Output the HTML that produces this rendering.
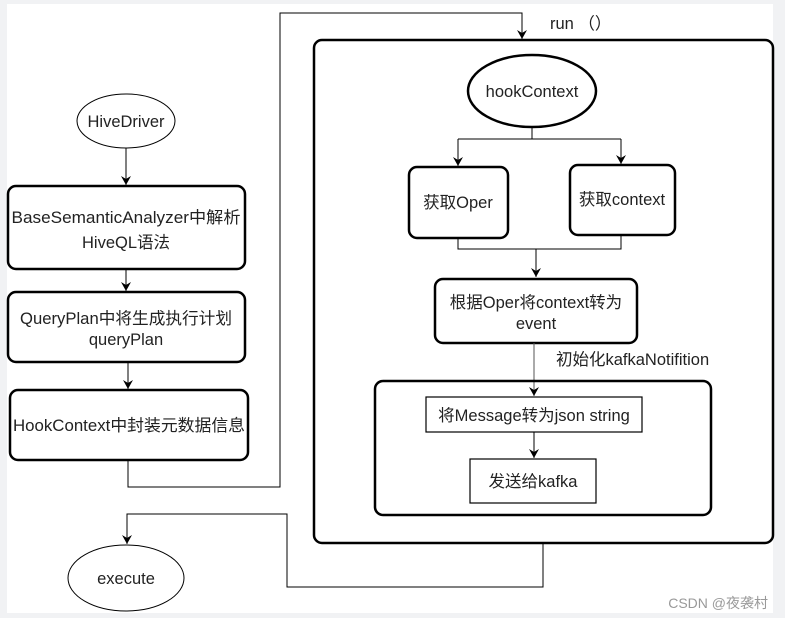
<!DOCTYPE html>
<html><head><meta charset="utf-8"><style>
html,body{margin:0;padding:0;background:#f1f2f4;}
svg{display:block}
text{font-family:"Liberation Sans","Noto Sans CJK SC",sans-serif;font-size:16.5px;fill:#222;}
</style></head><body>
<svg width="785" height="618" viewBox="0 0 785 618" xmlns="http://www.w3.org/2000/svg">
<defs><marker id="a" markerWidth="10" markerHeight="10" refX="9" refY="5" orient="auto" markerUnits="userSpaceOnUse"><path d="M0,0 L9,5 L0,10 L3,5 Z" fill="#000"/></marker></defs>
<rect x="7" y="4" width="766" height="609" fill="#fff"/>
<g fill="none" stroke="#000">
<ellipse cx="126" cy="121" rx="49" ry="27" stroke-width="1"/>
<line x1="126" y1="148" x2="126" y2="185" marker-end="url(#a)"/>
<rect x="8" y="186" width="237" height="83" rx="8" stroke-width="2.5"/>
<line x1="126" y1="269" x2="126" y2="291" marker-end="url(#a)"/>
<rect x="8" y="292" width="237" height="70" rx="8" stroke-width="2.5"/>
<line x1="128" y1="362" x2="128" y2="389" marker-end="url(#a)"/>
<rect x="10" y="390" width="238" height="70" rx="8" stroke-width="2.5"/>
<polyline points="128,460 128,487 280,487 280,13 522,13 522,39" marker-end="url(#a)"/>
<rect x="314" y="40" width="459" height="503" rx="8" stroke-width="2.5"/>
<ellipse cx="532" cy="91" rx="64" ry="36" stroke-width="2.5"/>
<polyline points="532,127 532,139"/>
<polyline points="458,139 458,166" marker-end="url(#a)"/>
<polyline points="621,139 621,164" marker-end="url(#a)"/>
<line x1="458" y1="139" x2="621" y2="139"/>
<rect x="409" y="167" width="99" height="71" rx="8" stroke-width="2.5"/>
<rect x="570" y="165" width="105" height="70" rx="8" stroke-width="2.5"/>
<polyline points="458,238 458,249 621,249 621,235"/>
<line x1="536" y1="249" x2="536" y2="277" marker-end="url(#a)"/>
<rect x="435" y="279" width="202" height="64" rx="8" stroke-width="2.5"/>
<line x1="534" y1="343" x2="534" y2="396" stroke="#555" marker-end="url(#a)"/>
<rect x="375" y="381" width="336" height="134" rx="8" stroke-width="2.5"/>
<rect x="426" y="397" width="216" height="35" stroke-width="1.2"/>
<line x1="534" y1="432" x2="534" y2="458" marker-end="url(#a)"/>
<rect x="470" y="459" width="126" height="44" stroke-width="1.2"/>
<polyline points="543,543 543,587 287,587 287,514 127,514 127,544" marker-end="url(#a)"/>
<ellipse cx="126" cy="578" rx="58" ry="33" stroke-width="1"/>
</g>
<text x="126" y="127" text-anchor="middle">HiveDriver</text>
<text x="126" y="223" text-anchor="middle" textLength="229" lengthAdjust="spacingAndGlyphs">BaseSemanticAnalyzer中解析</text>
<text x="126" y="248" text-anchor="middle">HiveQL语法</text>
<text x="126" y="324" text-anchor="middle" textLength="212" lengthAdjust="spacingAndGlyphs">QueryPlan中将生成执行计划</text>
<text x="126" y="345" text-anchor="middle">queryPlan</text>
<text x="129" y="431" text-anchor="middle" textLength="232" lengthAdjust="spacingAndGlyphs">HookContext中封装元数据信息</text>
<text x="550" y="29">run （）</text>
<text x="532" y="97" text-anchor="middle">hookContext</text>
<text x="458" y="208" text-anchor="middle">获取Oper</text>
<text x="622" y="205" text-anchor="middle">获取context</text>
<text x="536" y="308" text-anchor="middle">根据Oper将context转为</text>
<text x="536" y="329" text-anchor="middle">event</text>
<text x="556" y="365">初始化kafkaNotifition</text>
<text x="534" y="421" text-anchor="middle">将Message转为json string</text>
<text x="533" y="487" text-anchor="middle">发送给kafka</text>
<text x="126" y="584" text-anchor="middle">execute</text>
<text x="768" y="608" text-anchor="end" style="font-size:14px;fill:#999">CSDN @夜袭村</text>
</svg>
</body></html>
